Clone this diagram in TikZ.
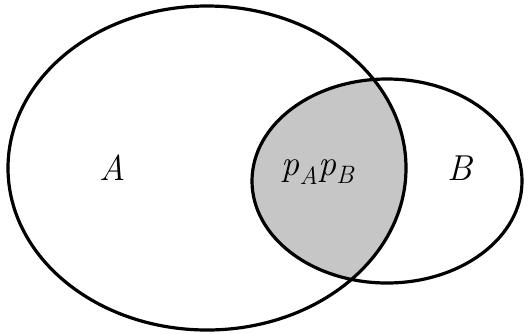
\documentclass[tikz,border=0pt]{standalone}
\usepackage{fontspec}
\begin{document}
\begin{tikzpicture}[
      x=1pt, y=-1pt,
      set/.style={draw, line width=3.2pt},
      overlap/.style={fill=gray!45},
      every node/.style={font=\fontsize{36}{42}\selectfont\itshape}
    ]
      \useasboundingbox (0,0) rectangle (529,333);
      \coordinate (cA) at (207,168);
      \coordinate (cB) at (387,181);
      % shaded intersection
      \begin{scope}
        \clip (cA) ellipse [x radius=199, y radius=162];
        \path[overlap] (cB) ellipse [x radius=135, y radius=102];
      \end{scope}
      \path[set] (cA) ellipse [x radius=199, y radius=162];
      \path[set] (cB) ellipse [x radius=135, y radius=102];
      \node (labelA) at (113,168) {A};
      \node (labelB) at (460,168) {B};
      \node (labelAB) at (318,172) {p\textsubscript{A}p\textsubscript{B}};
    \end{tikzpicture}
\end{document}
